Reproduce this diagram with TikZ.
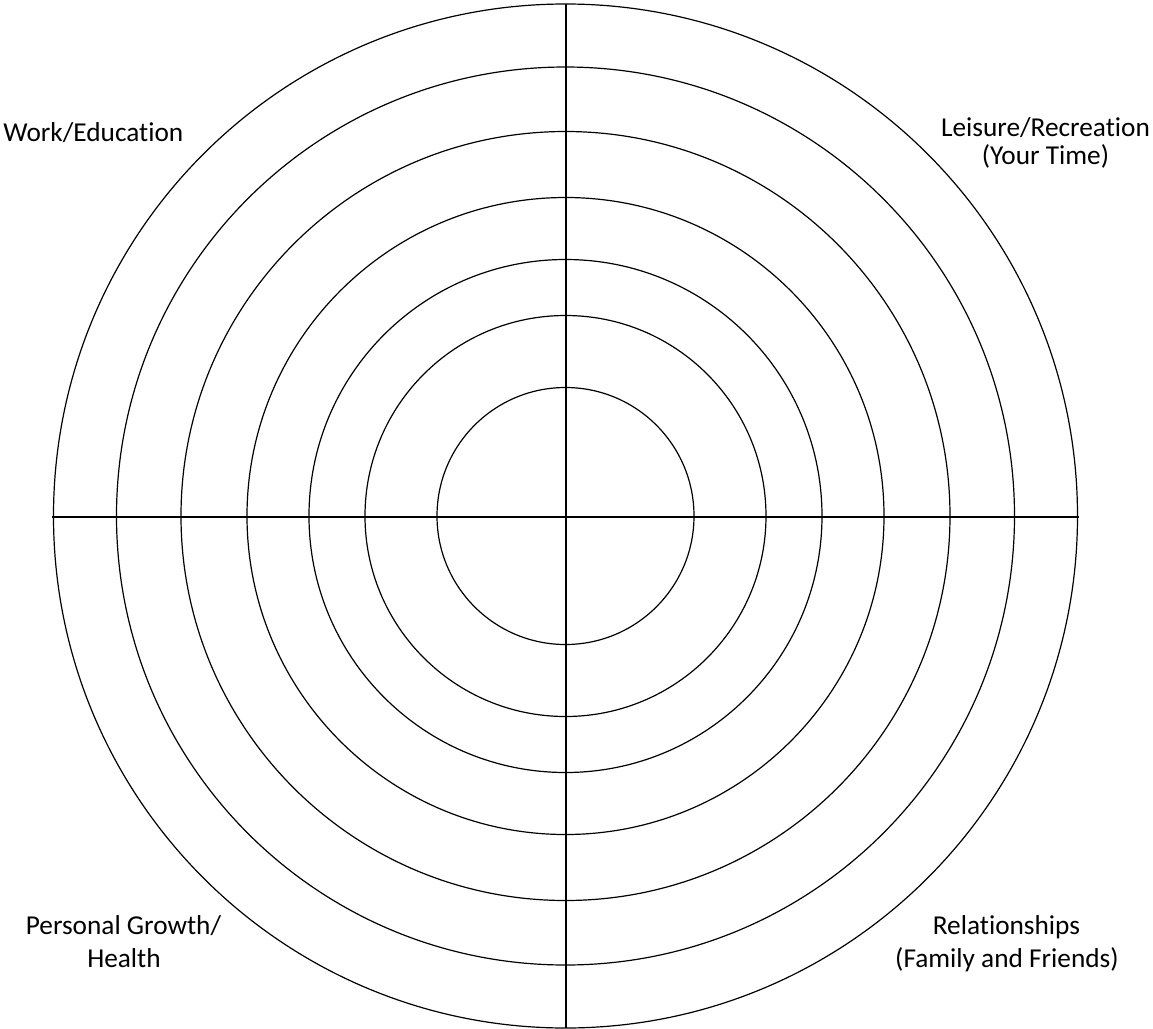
\documentclass[tikz,border=0pt]{standalone}
\usepackage{fontspec}
\setmainfont{Carlito}[Ligatures=NoCommon]
\begin{document}
\begin{tikzpicture}[x=0.5pt,y=-0.5pt,
  ring/.style={draw=black,line width=0.6pt},
  axis/.style={draw=black,line width=1pt},
  lbl/.style={inner sep=0pt,font=\fontsize{13.65}{16}\selectfont}]
\useasboundingbox (0,0) rectangle (1153,1029);
\coordinate (c) at (565.5,516);
\foreach \r in {128.5,200.5,256.5,318.5,384.5,449,512}
  \draw[ring] (c) circle[radius=\r*0.5pt];
\coordinate (top) at (565.5,4);
\coordinate (bot) at (565.5,1028);
\coordinate (lft) at (52,516.5);
\coordinate (rgt) at (1078.5,516.5);
\draw[axis] (top) -- (bot);
\draw[axis] (lft) -- (rgt);
\node[lbl,anchor=base west] (work) at (3,141) {Work/Education};
\node[lbl,anchor=base] (leis1) at (1045.5,136.5) {Leisure/Recreation};
\node[lbl,anchor=base] (leis2) at (1045.5,164) {(Your Time)};
\node[lbl,anchor=base] (pers1) at (123.5,934) {Personal Growth/};
\node[lbl,anchor=base] (pers2) at (124,967) {Health};
\node[lbl,anchor=base] (rel1) at (1006.5,934) {Relationships};
\node[lbl,anchor=base] (rel2) at (1007,967) {(Family and Friends)};
\end{tikzpicture}
\end{document}
